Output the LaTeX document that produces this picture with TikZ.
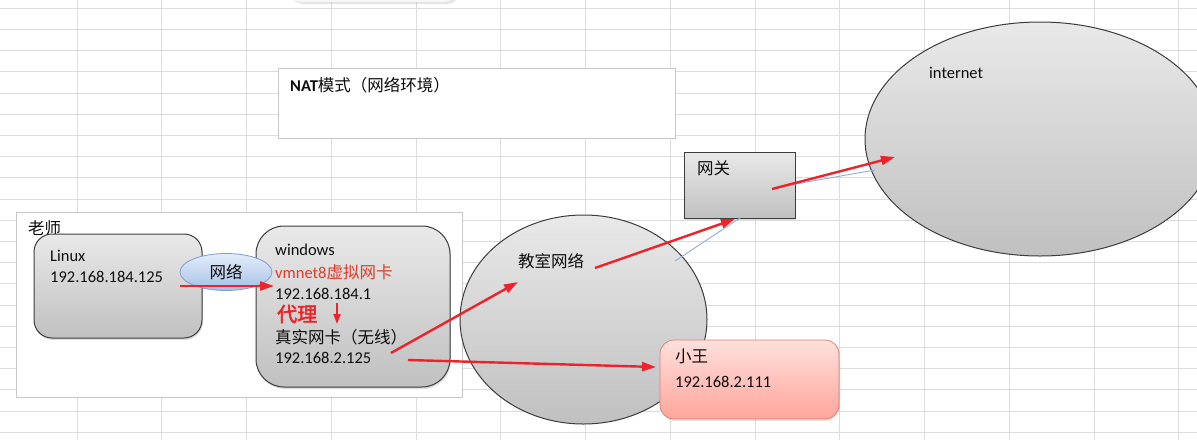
\documentclass[tikz,border=0pt]{standalone}
\usepackage{fontspec}
\setmainfont{Carlito}
\newfontfamily\cjk{Noto Sans CJK SC}
\newfontfamily\cjkbold[FakeBold=2.5]{Noto Sans CJK SC}
\usetikzlibrary{arrows.meta,shapes.geometric,shadows}
\definecolor{gridc}{HTML}{DCDCDC}
\definecolor{arrred}{HTML}{EE2229}
\definecolor{txtred}{HTML}{E43A2A}
\definecolor{edge}{HTML}{3C3C3C}
\definecolor{gtop}{HTML}{E8E9E8}
\definecolor{gbot}{HTML}{BFC0BF}
\definecolor{ptop}{HTML}{FFE0DC}
\definecolor{pbot}{HTML}{FFA59B}
\definecolor{pedge}{HTML}{D9837A}
\definecolor{btop}{HTML}{E4ECF9}
\definecolor{bbot}{HTML}{A6C0E8}
\definecolor{bedge}{HTML}{7E9CCF}
\definecolor{thinblue}{HTML}{8EAED6}
\begin{document}
\begin{tikzpicture}[x=1pt,y=-1pt,
  font=\fontsize{16.5}{19}\selectfont,
  panel/.style={draw=black!22, line width=0.8pt, fill=white, inner sep=0pt},
  graybox/.style={draw=edge, line width=1pt, top color=gtop, bottom color=gbot, inner sep=0pt,
     drop shadow={opacity=0.25, shadow xshift=1pt, shadow yshift=-2pt}},
  pinkbox/.style={draw=pedge, line width=0.8pt, top color=ptop, bottom color=pbot, inner sep=0pt,
     rounded corners=14pt, drop shadow={opacity=0.2, shadow xshift=1pt, shadow yshift=-2pt}},
  blueell/.style={ellipse, draw=bedge, line width=0.8pt, top color=btop, bottom color=bbot, inner sep=0pt},
  grayell/.style={ellipse, draw=edge, line width=1pt, top color=gtop, bottom color=gbot, inner sep=0pt},
  txt/.style={anchor=west, inner sep=0pt, text=black!95},
  redarrow/.style={draw=arrred, line width=2.4pt, -{Triangle[length=14pt,width=9pt]}},
  bluethin/.style={draw=thinblue, line width=0.9pt},
]
\useasboundingbox (0,0) rectangle (1197,440);
\fill[white] (0,0) rectangle (1197,440);
% spreadsheet grid
\begin{scope}
\clip (0,0) rectangle (1197,440);
\foreach \i in {0,...,13} \draw[gridc, line width=0.9pt] (77+84.75*\i,0) -- (77+84.75*\i,440);
\foreach \j in {0,...,20} \draw[gridc, line width=0.9pt] (0,8.3+21.2*\j) -- (1197,8.3+21.2*\j);
% partial shape at top
\node[draw=black!10, fill=gray!6, rounded corners=10pt, minimum width=165pt, minimum height=40pt,
  drop shadow={opacity=0.2, shadow yshift=-2pt}] (topshape) at (373,-18) {};
% internet ellipse
\node[grayell, minimum width=350pt, minimum height=234pt] (internet) at (1040,139) {};
\end{scope}

% NAT box
\node[panel, minimum width=397pt, minimum height=70pt] (nat) at (476.5,103) {};
\node[txt] (natt) at (290,85) {\textbf{NAT}{\cjk 模式（网络环境）}};

% teacher box
\node[panel, minimum width=446pt, minimum height=185pt] (teacher) at (239,304.5) {};
\node[txt] (teachert) at (28,228) {\cjk 老师};

% Linux
\node[graybox, rounded corners=18pt, minimum width=168pt, minimum height=104pt] (linux) at (118,286) {};
\node[txt] (linuxt) at (50,256) {Linux};
\node[txt] (linuxip) at (50,277) {192.168.184.125};

% windows
\node[graybox, rounded corners=28pt, minimum width=194pt, minimum height=161pt] (win) at (353,306.5) {};
\node[txt] (wint) at (275,250) {windows};
\node[txt, text=txtred] (vmnet) at (275,272) {vmnet8{\cjk 虚拟网卡}};
\node[txt] (winip1) at (275,294) {192.168.184.1};
\node[txt, text=arrred] (proxy) at (277,314) {\fontsize{20}{22}\selectfont\cjkbold 代理};
\node[txt] (real) at (275,337) {\cjk 真实网卡（无线）};
\node[txt] (winip2) at (275,358) {192.168.2.125};

% network ellipse
\node[blueell, minimum width=92pt, minimum height=37pt] (net) at (226,272) {};
\node[inner sep=0pt, text=black!95] (nett) at (226,272) {\cjk 网络};

% classroom ellipse
\node[grayell, minimum width=247pt, minimum height=209pt] (classroom) at (583.5,319.5) {};
\node[txt] (classt) at (518,261) {\cjk 教室网络};

% gateway
\node[graybox, minimum width=111pt, minimum height=66pt] (gateway) at (739.5,185) {};
\node[txt] (gatet) at (697,168) {\cjk 网关};

% Xiao Wang
\node[pinkbox, minimum width=179pt, minimum height=79pt] (xw) at (749.5,379.5) {};
\node[txt] (xwt) at (675,356) {\cjk 小王};
\node[txt] (xwip) at (675,382) {192.168.2.111};

\node[txt] (intt) at (929,73) {internet};

% coordinates for connectors
\coordinate (a1) at (180,286);  \coordinate (a2) at (274,286);
\coordinate (d1) at (337,303);  \coordinate (d2) at (337,324);
\coordinate (b1) at (391,353);  \coordinate (b2) at (518,282);
\coordinate (c1) at (408,360);  \coordinate (c2) at (656,367);
\coordinate (e1) at (595,268);  \coordinate (e2) at (735,219);
\coordinate (f1) at (772,189);  \coordinate (f2) at (895,157);
\coordinate (g1) at (675,261);  \coordinate (g2) at (740,218);
\coordinate (h1) at (778,187);  \coordinate (h2) at (875,170);

% thin blue connector lines
\draw[bluethin] (g1) -- (g2);
\draw[bluethin] (h1) -- (h2);

% red arrows
\draw[redarrow] (a1) -- (a2);
\draw[draw=arrred, line width=1.8pt, -{Triangle[length=10pt,width=7pt]}] (d1) -- (d2);
\draw[redarrow] (b1) -- (b2);
\draw[redarrow] (c1) -- (c2);
\draw[redarrow] (e1) -- (e2);
\draw[redarrow] (f1) -- (f2);
\end{tikzpicture}
\end{document}
